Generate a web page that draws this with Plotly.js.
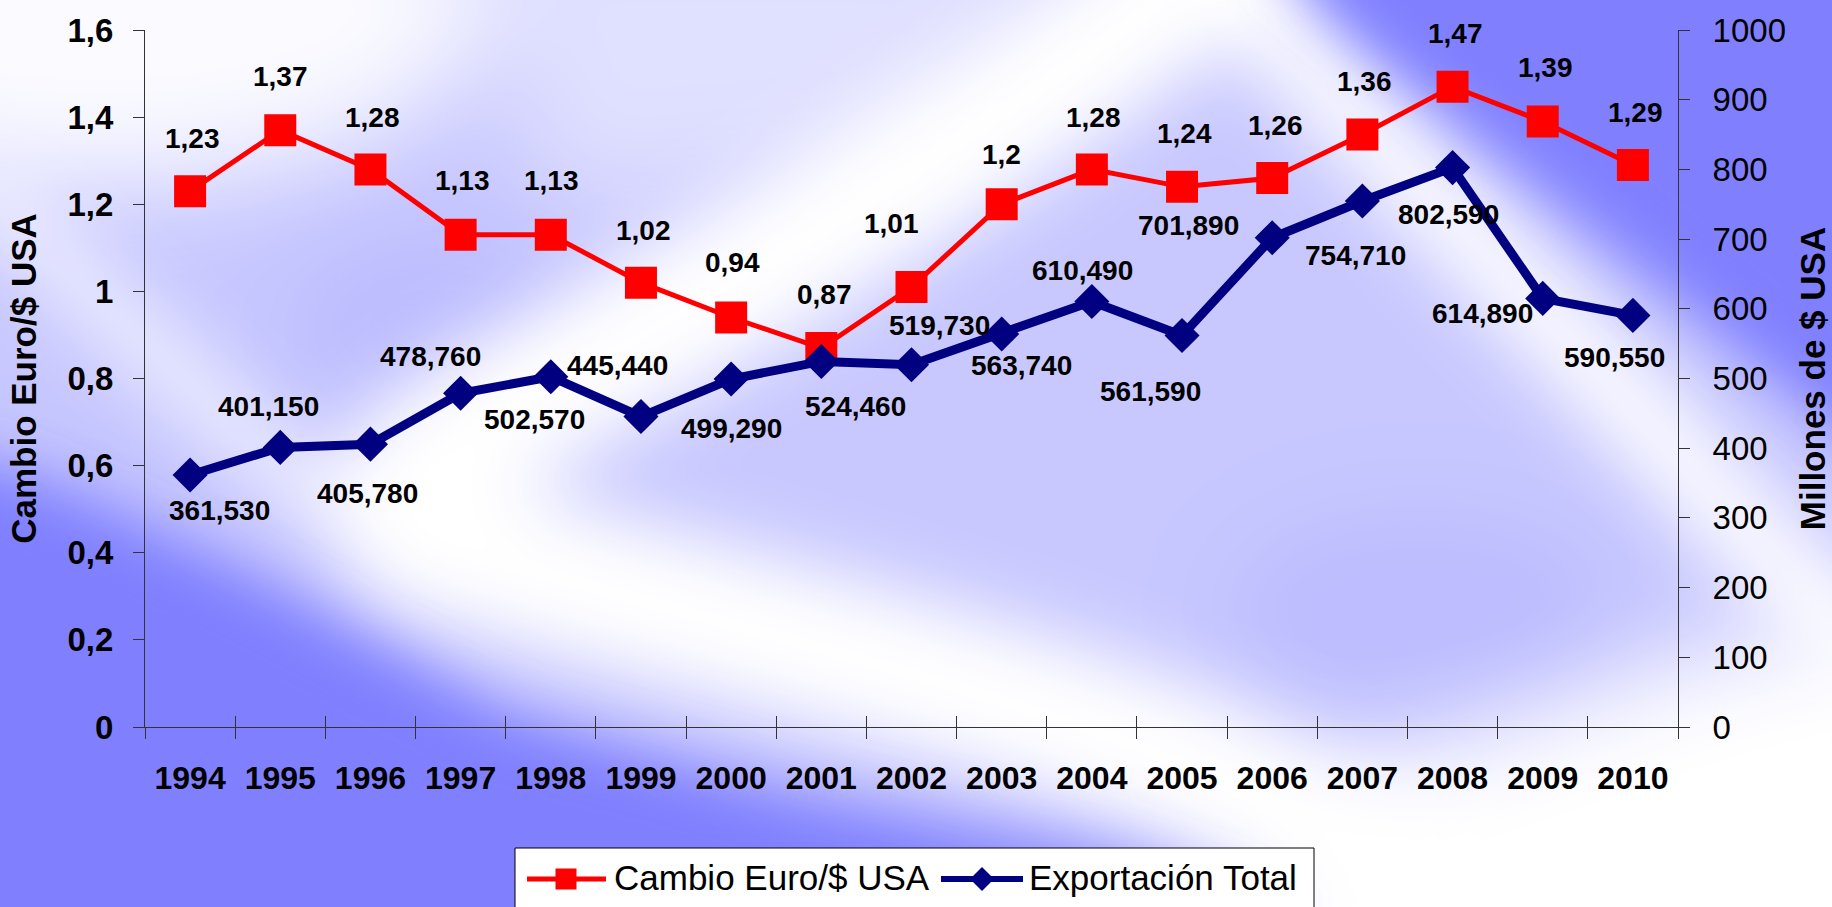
<!DOCTYPE html>
<html>
<head>
<meta charset="utf-8">
<script src="https://cdn.plot.ly/plotly-3.0.1.min.js"></script>
<style>
  html, body { margin: 0; padding: 0; width: 1832px; height: 907px; overflow: hidden; }
  #bg { position: absolute; left: 0; top: 0; width: 1832px; height: 907px; z-index: 0; }
  #chart { position: absolute; left: 0; top: 0; width: 1832px; height: 907px; z-index: 1; }
</style>
</head>
<body>
<svg id="bg" width="1832" height="907" viewBox="0 0 1832 907" xmlns="http://www.w3.org/2000/svg">
  <defs>
    <filter id="b1" x="-50%" y="-50%" width="200%" height="200%"><feGaussianBlur stdDeviation="50"/></filter>
    <filter id="b2" x="-50%" y="-50%" width="200%" height="200%"><feGaussianBlur stdDeviation="36"/></filter>
    <filter id="b3" x="-50%" y="-50%" width="200%" height="200%"><feGaussianBlur stdDeviation="30"/></filter>
  </defs>
  <rect x="0" y="0" width="1832" height="907" fill="#8080FF"/>
  <g filter="url(#b1)">
    <polygon points="-150,-150 1300,-150 1300,0 1950,450 1950,1050 900,1050 720,860 480,740 250,600 60,500 -150,470" fill="#C8C8FF"/>
    <polygon points="450,-100 1150,-100 900,170 550,200" fill="#E0E0FF"/>
    <ellipse cx="100" cy="10" rx="380" ry="170" fill="#FAFAFF"/>
    <polygon points="1150,1050 1350,780 1700,660 1950,600 1950,1050" fill="#FFFFFF"/>
    <ellipse cx="1420" cy="610" rx="200" ry="100" fill="#BCBCFF"/>
    <ellipse cx="440" cy="330" rx="160" ry="100" fill="#BCBCFF"/>
  </g>
  <g filter="url(#b2)" fill="none" stroke="#FFFFFF" stroke-linecap="round">
    <path d="M1240,-60 C1050,90 800,250 580,370 C430,450 360,500 430,540 C650,610 950,670 1200,770 C1350,840 1450,900 1550,980" stroke-width="150"/>
    <path d="M1190,-60 C1300,60 1480,240 1850,640" stroke-width="80"/>
    <path d="M-20,190 C80,280 180,380 320,500" stroke-width="40"/>
  </g>
  <g filter="url(#b3)" fill="#8080FF">
    <polygon points="1280,-45 1280,-200 2050,-200 2050,600"/>
    <polygon points="-200,440 0,480 250,590 500,720 800,795 1100,855 1250,907 1300,1100 -200,1100"/>
  </g>
</svg>
<div id="chart"></div>
<script>
// ---------- data ----------
const years = ['1994','1995','1996','1997','1998','1999','2000','2001','2002','2003','2004','2005','2006','2007','2008','2009','2010'];
const cambio = [1.23, 1.37, 1.28, 1.13, 1.13, 1.02, 0.94, 0.87, 1.01, 1.2, 1.28, 1.24, 1.26, 1.36, 1.47, 1.39, 1.29];
const exportacion = [361.53, 401.15, 405.78, 478.76, 502.57, 445.44, 499.29, 524.46, 519.73, 563.74, 610.49, 561.59, 701.89, 754.71, 802.59, 614.89, 590.55];
const seriesNames = ['Cambio Euro/$ USA', 'Exportación Total'];
const leftTitle = 'Cambio Euro/$ USA';
const rightTitle = 'Millones de $ USA';

// ---------- label placement (styling, pixels) ----------
const redLabelShift = [[2,53],[0,54],[2,52],[2,54],[1,54],[3,52],[1,55],[3,54],[-20,64],[0,50],[2,52],[2,53],[3,53],[2,53],[3,53],[3,54],[3,53]];
const blueLabelShift = [[29,-35],[-12,41],[-3,-49],[-30,37],[-16,-43],[-23,51],[0,-50],[34,-45],[28,39],[20,-31],[-9,31],[-32,-56],[-84,12],[-7,-55],[-4,-47],[-60,-15],[-18,-42]];

const W = 1832, H = 907;
const M = {l: 145, r: 154, t: 30, b: 180};
const PW = W - M.l - M.r, PH = H - M.t - M.b;
const px = x => (x - M.l) / PW;
const py = y => (H - M.b - y) / PH;

const FONT = 'Liberation Sans, Arial, Helvetica, sans-serif';
const AX = '#333333';

const fmtComma = (v, d) => (d === undefined ? String(v) : v.toFixed(d)).replace('.', ',');

const traces = [
  {
    x: years, y: cambio, name: seriesNames[0], type: 'scatter', mode: 'lines+markers',
    xaxis: 'x', yaxis: 'y',
    line: {color: '#FF0000', width: 5},
    marker: {symbol: 'square', size: 32, color: '#FF0000', line: {width: 0}},
    hoverinfo: 'x+y'
  },
  {
    x: years, y: exportacion, name: seriesNames[1], type: 'scatter', mode: 'lines+markers',
    xaxis: 'x2', yaxis: 'y2',
    line: {color: '#000080', width: 9},
    marker: {symbol: 'diamond', size: 27, color: '#000080', line: {width: 0}},
    hoverinfo: 'x+y'
  }
];

const LBL = {family: FONT, size: 28, weight: 'bold', color: '#000'};
const annotations = [];
years.forEach((yr, i) => {
  // category axes take the category's serial number
  annotations.push({
    xref: 'x', yref: 'y', x: i, y: cambio[i], text: fmtComma(cambio[i]),
    showarrow: false, xanchor: 'center', yanchor: 'middle',
    xshift: redLabelShift[i][0], yshift: redLabelShift[i][1], font: LBL
  });
  annotations.push({
    xref: 'x2', yref: 'y2', x: i, y: exportacion[i], text: fmtComma(exportacion[i], 3),
    showarrow: false, xanchor: 'center', yanchor: 'middle',
    xshift: blueLabelShift[i][0], yshift: blueLabelShift[i][1], font: LBL
  });
});

// custom legend text
const legY = 878;
annotations.push({xref: 'paper', yref: 'paper', x: px(612), y: py(legY), xanchor: 'left', yanchor: 'middle',
  text: seriesNames[0], showarrow: false, font: {family: FONT, size: 35, color: '#000'}});
annotations.push({xref: 'paper', yref: 'paper', x: px(1027), y: py(legY), xanchor: 'left', yanchor: 'middle',
  text: seriesNames[1], showarrow: false, font: {family: FONT, size: 35, color: '#000'}});

const P = (x, y) => px(x) + ',' + py(y);
const shapes = [
  {type: 'rect', xref: 'paper', yref: 'paper', x0: px(515), x1: px(1314), y0: py(848), y1: py(930),
   fillcolor: '#FFFFFF', line: {color: '#000', width: 1}, layer: 'above'},
  {type: 'line', xref: 'paper', yref: 'paper', x0: px(527), x1: px(606), y0: py(legY+1), y1: py(legY+1),
   line: {color: '#FF0000', width: 5}},
  {type: 'rect', xref: 'paper', yref: 'paper', x0: px(555.5), x1: px(576.5), y0: py(legY+1-10.5), y1: py(legY+1+10.5),
   fillcolor: '#FF0000', line: {width: 0}},
  {type: 'line', xref: 'paper', yref: 'paper', x0: px(941), x1: px(1023), y0: py(legY+1), y1: py(legY+1),
   line: {color: '#000080', width: 6}},
  {type: 'path', xref: 'paper', yref: 'paper',
   path: 'M' + P(982, legY+1-12) + 'L' + P(994, legY+1) + 'L' + P(982, legY+1+12) + 'L' + P(970, legY+1) + 'Z',
   fillcolor: '#000080', line: {width: 0}}
];

const catAxis = {
  type: 'category', categoryorder: 'array', categoryarray: years, range: [-0.5, 16.5],
  tickson: 'boundaries', showgrid: false, zeroline: false, fixedrange: true
};

const layout = {
  width: W, height: H,
  margin: {l: M.l, r: M.r, t: M.t, b: M.b, pad: 0},
  paper_bgcolor: 'rgba(0,0,0,0)', plot_bgcolor: 'rgba(0,0,0,0)',
  separators: ',.',
  showlegend: false,
  font: {family: FONT, color: '#000'},
  xaxis: Object.assign({}, catAxis, {
    anchor: 'y', ticks: 'outside', ticklen: 11, tickcolor: AX, tickwidth: 1,
    showline: true, linecolor: AX, linewidth: 1,
    tickfont: {family: FONT, size: 32, weight: 'bold', color: '#000'}, ticklabelstandoff: 23
  }),
  xaxis2: Object.assign({}, catAxis, {
    overlaying: 'x', anchor: 'y', side: 'bottom', ticks: 'inside', ticklen: 11, tickcolor: AX, tickwidth: 1,
    showline: false, showticklabels: false
  }),
  yaxis: {
    range: [0, 1.6], tick0: 0, dtick: 0.2, anchor: 'x', side: 'left',
    ticks: 'outside', ticklen: 11, tickcolor: AX, tickwidth: 1,
    showline: true, linecolor: AX, linewidth: 1, showgrid: false, zeroline: false,
    tickfont: {family: FONT, size: 33, weight: 'bold', color: '#000'}, ticklabelstandoff: 13,
    title: {text: leftTitle, font: {family: FONT, size: 35, weight: 'bold', color: '#000'}, standoff: 20},
    fixedrange: true
  },
  yaxis2: {
    range: [0, 1000], tick0: 0, dtick: 100, anchor: 'x', side: 'right', overlaying: 'y',
    ticks: 'outside', ticklen: 11, tickcolor: AX, tickwidth: 1,
    showline: true, linecolor: AX, linewidth: 1, showgrid: false, zeroline: false,
    tickfont: {family: FONT, size: 33, color: '#000'}, ticklabelstandoff: 16,
    title: {text: rightTitle, font: {family: FONT, size: 35, weight: 'bold', color: '#000'}, standoff: 18},
    fixedrange: true
  },
  yaxis3: {
    range: [0, 1.6], tick0: 0, dtick: 0.2, anchor: 'x', side: 'left', overlaying: 'y',
    ticks: 'inside', ticklen: 11, tickcolor: AX, tickwidth: 1,
    showline: false, showgrid: false, zeroline: false, showticklabels: false, fixedrange: true
  },
  yaxis4: {
    range: [0, 1000], tick0: 0, dtick: 100, anchor: 'x', side: 'right', overlaying: 'y',
    ticks: 'inside', ticklen: 11, tickcolor: AX, tickwidth: 1,
    showline: false, showgrid: false, zeroline: false, showticklabels: false, fixedrange: true
  },
  annotations: annotations,
  shapes: shapes
};

Plotly.newPlot('chart', traces, layout, {displayModeBar: false, staticPlot: true});
</script>
</body>
</html>
